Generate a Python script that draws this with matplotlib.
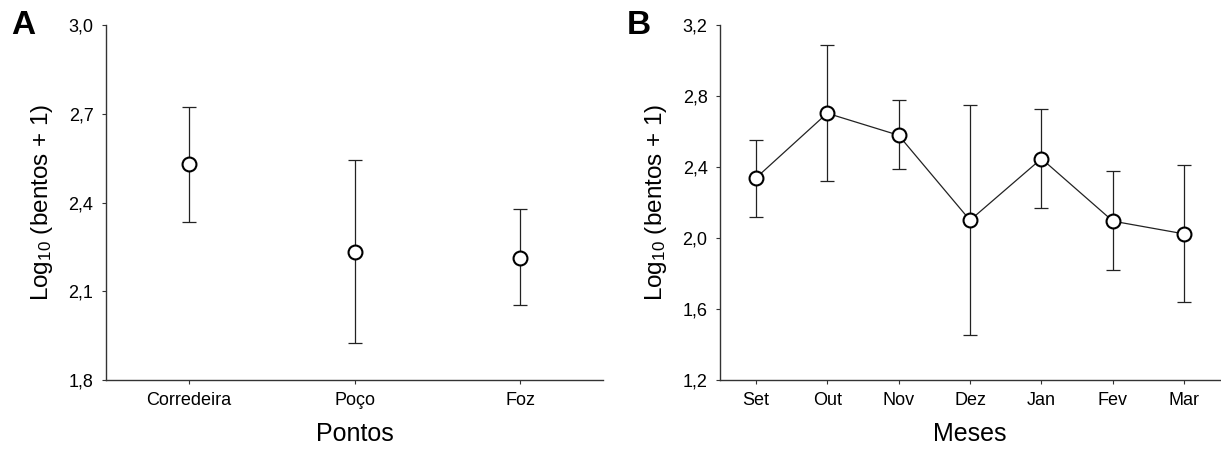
import matplotlib
matplotlib.use("Agg")
import matplotlib.pyplot as plt
from matplotlib.ticker import FuncFormatter

plt.rcParams['font.family'] = ['Liberation Sans', 'DejaVu Sans']
plt.rcParams['mathtext.fontset'] = 'custom'
plt.rcParams['mathtext.rm'] = 'Liberation Sans'
plt.rcParams['mathtext.default'] = 'regular'

# Panel A - points
pontos = ["Corredeira", "Poço", "Foz"]
pontos_mean = [2.529, 2.231, 2.214]
pontos_upper = [2.723, 2.543, 2.379]
pontos_lower = [2.334, 1.926, 2.055]
pontos_yticks = [1.8, 2.1, 2.4, 2.7, 3.0]

# Panel B - months
meses = ["Set", "Out", "Nov", "Dez", "Jan", "Fev", "Mar"]
meses_mean = [2.337, 2.703, 2.579, 2.100, 2.447, 2.095, 2.023]
meses_upper = [2.552, 3.087, 2.776, 2.750, 2.727, 2.377, 2.413]
meses_lower = [2.121, 2.319, 2.386, 1.456, 2.170, 1.818, 1.639]
meses_yticks = [1.2, 1.6, 2.0, 2.4, 2.8, 3.2]

ylabel = "Log$_{10}$ (bentos + 1)"
comma = FuncFormatter(lambda v, p: f"{v:.1f}".replace(".", ","))

fig = plt.figure(figsize=(12.21, 4.5), dpi=100)
ax1 = fig.add_axes([0.0868, 0.1556, 0.4071, 0.7888])
ax2 = fig.add_axes([0.5897, 0.1556, 0.4095, 0.7888])


def style(ax, labels, yticks, xlabel):
    for s in ["top", "right"]:
        ax.spines[s].set_visible(False)
    for s in ["left", "bottom"]:
        ax.spines[s].set_linewidth(1.0)
        ax.spines[s].set_color("#333333")
    ax.set_xticks(range(len(labels)))
    ax.set_xticklabels(labels)
    ax.set_xlim(-0.5, len(labels) - 0.5)
    ax.set_yticks(yticks)
    ax.set_ylim(yticks[0], yticks[-1])
    ax.yaxis.set_major_formatter(comma)
    ax.tick_params(direction="out", length=3, width=0.8, color="#333333",
                   labelsize=13, pad=6)
    ax.set_xlabel(xlabel, fontsize=18, labelpad=9)
    ax.set_ylabel(ylabel, fontsize=17.5, labelpad=10)


def draw(ax, means, upper, lower, line):
    x = list(range(len(means)))
    err = [[m - l for m, l in zip(means, lower)],
           [u - m for m, u in zip(means, upper)]]
    ax.errorbar(x, means, yerr=err, fmt="none", ecolor="#222222",
                elinewidth=0.9, capsize=5, capthick=0.9, zorder=2)
    ax.plot(x, means, linestyle="-" if line else "none", color="#222222",
            linewidth=0.9, marker="o", markersize=10, markerfacecolor="white",
            markeredgecolor="black", markeredgewidth=1.5, zorder=3,
            clip_on=False)


draw(ax1, pontos_mean, pontos_upper, pontos_lower, False)
style(ax1, pontos, pontos_yticks, "Pontos")
draw(ax2, meses_mean, meses_upper, meses_lower, True)
style(ax2, meses, meses_yticks, "Meses")

fig.text(0.009, 0.944, "A", fontsize=24, fontweight="bold", va="center")
fig.text(0.513, 0.944, "B", fontsize=24, fontweight="bold", va="center")

fig.savefig("out.png", dpi=100)
